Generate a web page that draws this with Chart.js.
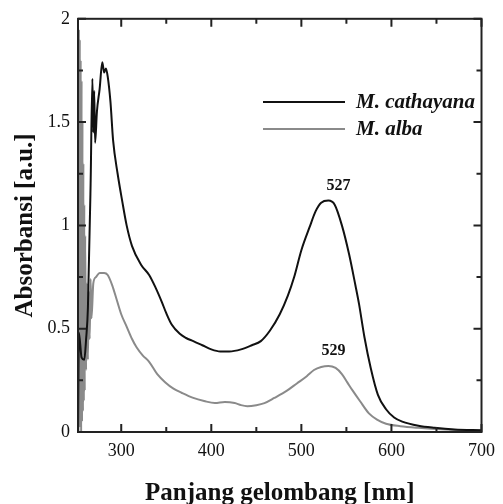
<!DOCTYPE html>
<html>
<head>
<meta charset="utf-8">
<script src="https://cdn.jsdelivr.net/npm/chart.js@4.4.1/dist/chart.umd.min.js"></script>
<style>
  html, body { margin: 0; padding: 0; background: #fff; }
  #wrap { width: 503px; height: 504px; position: relative; }
</style>
</head>
<body>
<div id="wrap"><canvas id="spektrum"></canvas></div>
<script>
// data (panjang gelombang nm, absorbansi a.u.)
const cathWl  = [252, 253, 256, 259, 261, 263, 266, 268, 269, 270, 271, 273, 276, 279, 281, 283, 285, 288, 291, 296, 301, 306, 312, 322, 331, 338, 345, 350, 356, 365, 372, 380, 390, 400, 410, 420, 433, 445, 455, 465, 476, 485, 492, 500, 509, 516, 522, 530, 537, 545, 553, 560, 564, 570, 577, 585, 594, 603, 612, 630, 648, 670, 700];
const cathAbs = [0.0, 0.48, 0.36, 0.35, 0.45, 0.6, 1.2, 1.71, 1.45, 1.65, 1.40, 1.55, 1.66, 1.79, 1.74, 1.76, 1.72, 1.6, 1.41, 1.25, 1.12, 1.0, 0.9, 0.81, 0.76, 0.70, 0.63, 0.575, 0.52, 0.475, 0.455, 0.44, 0.42, 0.40, 0.39, 0.39, 0.40, 0.42, 0.44, 0.49, 0.57, 0.66, 0.75, 0.88, 0.99, 1.07, 1.11, 1.12, 1.10, 1.0, 0.86, 0.71, 0.62, 0.46, 0.31, 0.18, 0.11, 0.07, 0.05, 0.03, 0.02, 0.012, 0.008];

const albaWl  = [252, 252.5, 253, 253.5, 254, 254.5, 255, 255.5, 256, 256.5, 257, 257.5, 258, 258.5, 259, 259.5, 260, 261, 262, 263, 264, 265, 266, 267, 269, 272, 276, 281, 285, 290, 295, 300, 306, 312, 317, 324, 331, 340, 349, 358, 367, 380, 392, 404, 415, 426, 433, 440, 450, 459, 470, 484, 495, 506, 514, 522, 530, 538, 545, 551, 557, 565, 575, 584, 594, 610, 630, 660, 700];
const albaAbs = [2.0, 0.0, 1.95, 0.02, 1.9, 0.05, 1.8, 0.0, 1.7, 0.05, 1.5, 0.1, 1.3, 0.15, 1.1, 0.2, 0.95, 0.3, 0.72, 0.35, 0.68, 0.45, 0.74, 0.55, 0.72, 0.75, 0.77, 0.77, 0.76, 0.71, 0.64, 0.57, 0.51, 0.45, 0.41, 0.37, 0.34, 0.28, 0.24, 0.21, 0.19, 0.165, 0.15, 0.14, 0.145, 0.14, 0.13, 0.125, 0.13, 0.14, 0.165, 0.20, 0.235, 0.27, 0.30, 0.315, 0.32, 0.31, 0.28, 0.24, 0.20, 0.15, 0.09, 0.06, 0.04, 0.028, 0.02, 0.012, 0.006];

const seriesNames = ['M. cathayana', 'M. alba'];
const peakLabels = ['527', '529'];
const xTicks = [300, 400, 500, 600, 700];
const xMinor = [350, 450, 550, 650];
const yTicks = [0, 0.5, 1, 1.5, 2];
const yMinor = [0.25, 0.75, 1.25, 1.75];

const SERIF = '"Liberation Serif", "DejaVu Serif", "Times New Roman", serif';

function toPoints(xs, ys) {
	return xs.map(function(x, i) { return { x: x, y: ys[i] }; });
}

// garis tick ke dalam, bingkai, legenda dan label puncak
const bingkaiPlugin = {
	id: 'bingkai',
	afterDraw: function(chart) {
		const ctx = chart.ctx;
		const a = chart.chartArea;
		const sx = chart.scales.x;
		const sy = chart.scales.y;
		ctx.save();
		ctx.strokeStyle = '#222';
		ctx.lineWidth = 2;
		ctx.strokeRect(a.left, a.top, a.right - a.left, a.bottom - a.top);

		function tickX(v, len) {
			const px = sx.getPixelForValue(v);
			ctx.beginPath();
			ctx.moveTo(px, a.bottom); ctx.lineTo(px, a.bottom - len);
			ctx.moveTo(px, a.top); ctx.lineTo(px, a.top + len);
			ctx.stroke();
		}
		function tickY(v, len) {
			const py = sy.getPixelForValue(v);
			ctx.beginPath();
			ctx.moveTo(a.left, py); ctx.lineTo(a.left + len, py);
			ctx.moveTo(a.right, py); ctx.lineTo(a.right - len, py);
			ctx.stroke();
		}
		xTicks.forEach(function(v) { tickX(v, 8); });
		xMinor.forEach(function(v) { tickX(v, 5); });
		yTicks.forEach(function(v) { tickY(v, 8); });
		yMinor.forEach(function(v) { tickY(v, 5); });

		// legenda
		const ds = chart.data.datasets;
		const legY = [102, 129];
		ds.forEach(function(d, i) {
			ctx.strokeStyle = d.borderColor;
			ctx.lineWidth = 2;
			ctx.beginPath();
			ctx.moveTo(263, legY[i]);
			ctx.lineTo(345, legY[i]);
			ctx.stroke();
			ctx.fillStyle = '#111';
			ctx.font = 'italic bold 21px ' + SERIF;
			ctx.textAlign = 'left';
			ctx.textBaseline = 'middle';
			ctx.fillText(d.label, 356, legY[i] + 1);
		});

		// label puncak di atas maksimum (daerah > 450 nm)
		ctx.font = 'bold 16px ' + SERIF;
		ctx.textAlign = 'center';
		ctx.textBaseline = 'middle';
		ctx.fillStyle = '#111';
		ds.forEach(function(d, i) {
			let best = null;
			d.data.forEach(function(p) {
				if (p.x > 450 && (!best || p.y > best.y)) best = p;
			});
			const px = sx.getPixelForValue(best.x);
			const py = sy.getPixelForValue(best.y);
			ctx.fillText(peakLabels[i], px + (i === 0 ? 10 : 5), py - 15);
		});
		ctx.restore();
	}
};

var context = document.getElementById('spektrum').getContext('2d');
var spektrumChart = new Chart(context, {
	type: 'line',
	data: {
		datasets: [
			{
				label: seriesNames[0],
				data: toPoints(cathWl, cathAbs),
				borderColor: '#111111',
				borderWidth: 2,
				pointRadius: 0,
				fill: false,
				cubicInterpolationMode: 'monotone'
			},
			{
				label: seriesNames[1],
				data: toPoints(albaWl, albaAbs),
				borderColor: '#8a8a8a',
				borderWidth: 2,
				pointRadius: 0,
				fill: false,
				cubicInterpolationMode: 'monotone'
			}
		]
	},
	options: {
		responsive: true,
		maintainAspectRatio: false,
		animation: false,
		layout: { padding: { top: 17, right: 16, left: 0, bottom: 0 } },
		plugins: {
			legend: { display: false },
			tooltip: { enabled: false }
		},
		scales: {
			x: {
				type: 'linear',
				min: 252,
				max: 700,
				grid: { display: false, drawTicks: false },
				border: { display: false },
				afterBuildTicks: function(scale) {
					scale.ticks = xTicks.map(function(v) { return { value: v }; });
				},
				afterFit: function(scale) { scale.height = 72; },
				ticks: {
					padding: 8,
					color: '#111',
					maxRotation: 0,
					font: { family: SERIF, size: 18 }
				},
				title: {
					display: true,
					text: 'Panjang gelombang [nm]',
					color: '#111',
					font: { family: SERIF, size: 25, weight: 'bold', lineHeight: 1 },
					padding: { top: 0, bottom: -2 }
				}
			},
			y: {
				min: 0,
				max: 2,
				grid: { display: false, drawTicks: false },
				border: { display: false },
				afterBuildTicks: function(scale) {
					scale.ticks = yTicks.map(function(v) { return { value: v }; });
				},
				afterFit: function(scale) { scale.width = 78; },
				ticks: {
					padding: 8,
					color: '#111',
					font: { family: SERIF, size: 18 },
					callback: function(value) { return String(value); }
				},
				title: {
					display: true,
					text: 'Absorbansi [a.u.]',
					color: '#111',
					font: { family: SERIF, size: 25, weight: 'bold', lineHeight: 1 },
					padding: { top: 13, bottom: 0 }
				}
			}
		}
	},
	plugins: [bingkaiPlugin]
});
</script>
</body>
</html>
